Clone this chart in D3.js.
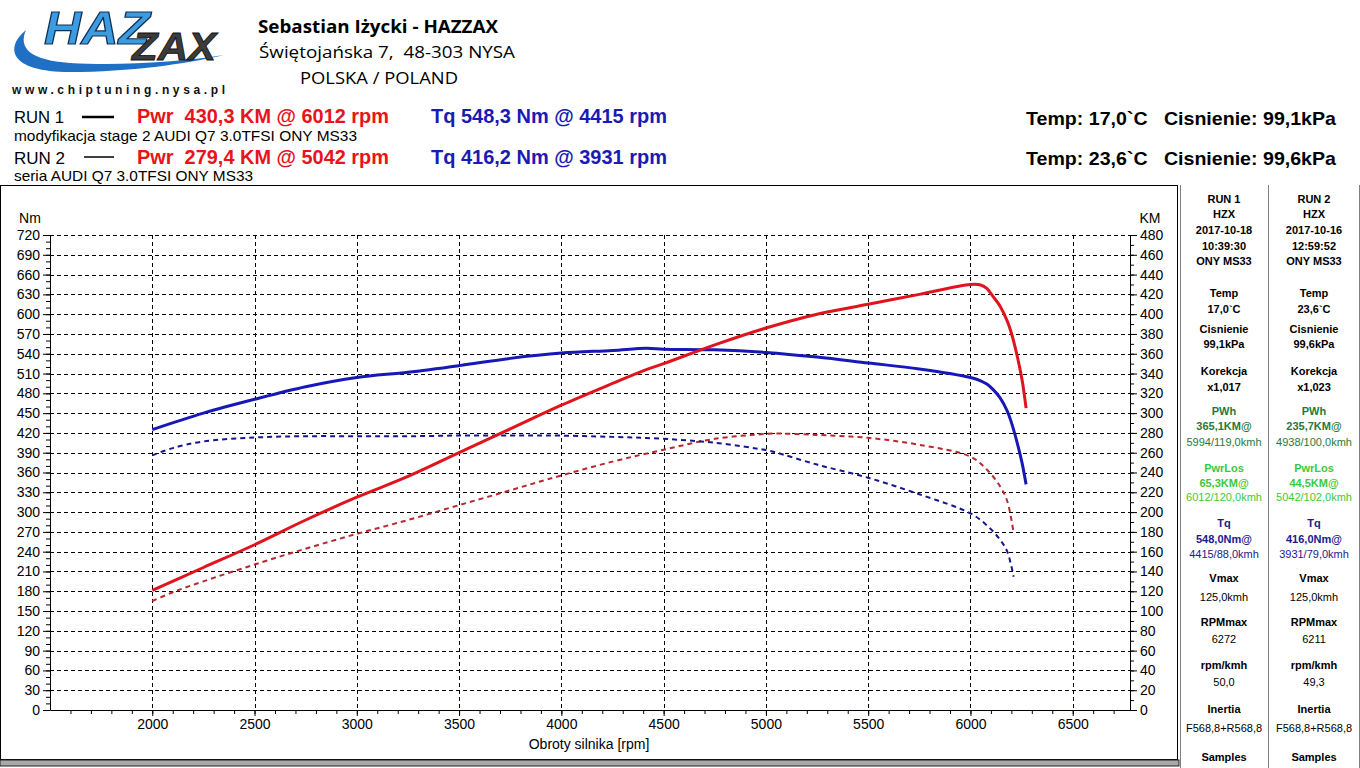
<!DOCTYPE html>
<meta charset="utf-8">
<head>
<style>
  body { margin: 0; background: #fff; }
  svg { display: block; }
</style>
</head>
<body>
  <div id="my_dataviz"></div>
  <script src="https://d3js.org/d3.v7.min.js"></script>
<script>
// ---- data ----
// RUN 1 (stage 2)
const rpm1 = [2000, 2250, 2500, 2750, 3000, 3250, 3500, 3750, 4000, 4250, 4415, 4500, 4750, 5000, 5250, 5500, 5750, 6000, 6050, 6080, 6110, 6145, 6180, 6200, 6226, 6252, 6272];
const torque1 = [425, 450, 471, 490, 504, 512, 522, 533, 541, 545, 548.3, 547, 546, 542, 535, 526, 517, 504, 499, 494, 486, 473, 453, 436, 408, 375, 342];
const power1 = [121, 144, 167, 192, 215, 236, 260, 284, 308, 330, 344, 350, 369, 386, 400, 410, 420, 430, 429.5, 426, 418, 408, 393, 381, 360, 334, 305];

// RUN 2 (stock)
const rpm2 = [2000, 2100, 2250, 2500, 2750, 3000, 3250, 3500, 3750, 3931, 4250, 4500, 4750, 5000, 5042, 5250, 5500, 5750, 6000, 6080, 6145, 6180, 6211];
const torque2 = [386, 397, 407, 413, 415, 415, 415, 416, 416, 416.2, 414, 411, 405, 394, 391, 372, 352, 327, 298, 280, 258, 240, 202];
const power2 = [110, 119, 130, 147, 163, 178, 192, 207, 222, 233, 251, 263, 274, 279, 279.4, 278, 275, 268, 256, 243, 226, 211, 179];

// axis ticks
const rpmTicks = [2000, 2500, 3000, 3500, 4000, 4500, 5000, 5500, 6000, 6500];
const nmTicks = d3.range(0, 721, 30);
const kmTicks = d3.range(0, 481, 20);

// info panel on the right
const panelRun1 = ["RUN 1", "HZX", "2017-10-18", "10:39:30", "ONY MS33", "Temp", "17,0`C", "Cisnienie", "99,1kPa", "Korekcja", "x1,017", "PWh", "365,1KM@", "5994/119,0kmh", "PwrLos", "65,3KM@", "6012/120,0kmh", "Tq", "548,0Nm@", "4415/88,0kmh", "Vmax", "125,0kmh", "RPMmax", "6272", "rpm/kmh", "50,0", "Inertia", "F568,8+R568,8", "Samples"];
const panelRun2 = ["RUN 2", "HZX", "2017-10-16", "12:59:52", "ONY MS33", "Temp", "23,6`C", "Cisnienie", "99,6kPa", "Korekcja", "x1,023", "PWh", "235,7KM@", "4938/100,0kmh", "PwrLos", "44,5KM@", "5042/102,0kmh", "Tq", "416,0Nm@", "3931/79,0kmh", "Vmax", "125,0kmh", "RPMmax", "6211", "rpm/kmh", "49,3", "Inertia", "F568,8+R568,8", "Samples"];

// layout for the panel rows (y centre + look)
const panelY = [199, 214, 230, 246, 261, 293, 309, 329, 344, 371, 387, 411, 426, 442, 468, 483, 497, 523, 539, 554, 578, 597, 622, 639, 665, 682, 709, 728, 757];
const panelKind = ["b","b","b","b","b","b","b","b","b","b","b","gb","gb","g","lb","lb","l","nb","nb","n","b","r","b","r","b","r","b","r","b"];
const kindColor = { b: "#000", r: "#000", g: "#1f7a3c", gb: "#1f7a3c", l: "#3cc83c", lb: "#3cc83c", n: "#1a1a8c", nb: "#1a1a8c" };

const W = 1360, H = 768;
const svg = d3.select("#my_dataviz").append("svg")
  .attr("width", W).attr("height", H)
  .style("font-family", "'Liberation Sans', Arial, sans-serif");

svg.append("rect").attr("width", W).attr("height", H).attr("fill", "#fff");

// scales
const x = d3.scaleLinear().domain([1500, 6780]).range([50, 1130]);
const yT = d3.scaleLinear().domain([0, 720]).range([710, 235]);
const yP = d3.scaleLinear().domain([0, 480]).range([710, 235]);

// ---- frames ----
svg.append("rect").attr("x", 0.5).attr("y", 185.5).attr("width", 1177).attr("height", 574)
  .attr("fill", "none").attr("stroke", "#000");
svg.append("rect").attr("x", 0).attr("y", 760).attr("width", 1179).attr("height", 6)
  .attr("fill", "#a8a8a8").attr("stroke", "#222").attr("stroke-width", 1);
[1180.5, 1268.5, 1359.5].forEach(function (lx) {
  svg.append("line").attr("x1", lx).attr("x2", lx).attr("y1", 185).attr("y2", 768)
    .attr("stroke", "#808080");
});

// ---- logo ----
const logo = svg.append("g");
logo.append("path")
  .attr("d", "M 26,30 C 4,48 10,72 70,72 C 130,72 185,64 224,55 C 180,62 120,66 70,63 C 30,60 18,48 26,30 Z")
  .attr("fill", "#1f6fc4");
logo.append("text").attr("x", 44).attr("y", 44)
  .attr("font-size", 46).attr("font-weight", "bold").attr("font-style", "italic")
  .attr("fill", "#3d9be0").attr("stroke", "#0e2f55").attr("stroke-width", 1.2)
  .attr("textLength", 106).attr("lengthAdjust", "spacingAndGlyphs")
  .text("HAZ");
logo.append("text").attr("x", 132).attr("y", 60)
  .attr("font-size", 38).attr("font-weight", "bold").attr("font-style", "italic")
  .attr("fill", "#3b3b3b").attr("stroke", "#111").attr("stroke-width", 0.8)
  .attr("textLength", 84).attr("lengthAdjust", "spacingAndGlyphs")
  .text("ZAX");
logo.append("text").attr("x", 12).attr("y", 94)
  .attr("font-size", 12).attr("font-weight", "bold").attr("fill", "#111")
  .attr("textLength", 213).attr("lengthAdjust", "spacing")
  .text("www.chiptuning.nysa.pl");

// ---- company header ----
const hdrFont = "'Open Sans', 'Noto Sans', sans-serif";
svg.append("text").attr("x", 258).attr("y", 33).attr("font-family", hdrFont)
  .attr("font-size", 17).attr("font-weight", "bold")
  .attr("textLength", 240).attr("lengthAdjust", "spacingAndGlyphs")
  .text("Sebastian Iżycki - HAZZAX");
svg.append("text").attr("x", 259).attr("y", 58).attr("font-family", hdrFont)
  .attr("font-size", 17).attr("xml:space", "preserve")
  .attr("textLength", 256).attr("lengthAdjust", "spacingAndGlyphs")
  .text("Świętojańska 7,  48-303 NYSA");
svg.append("text").attr("x", 300).attr("y", 84).attr("font-family", hdrFont)
  .attr("font-size", 17)
  .attr("textLength", 158).attr("lengthAdjust", "spacingAndGlyphs")
  .text("POLSKA / POLAND");

// ---- run legend rows ----
const narrow = "'Liberation Sans Narrow', 'Liberation Sans', Arial, sans-serif";
function putText(t, x0, y0, len, size, weight, color) {
  svg.append("text").attr("x", x0).attr("y", y0)
    .attr("font-family", narrow).attr("font-size", size).attr("font-weight", weight)
    .attr("fill", color).attr("xml:space", "preserve")
    .attr("textLength", len).attr("lengthAdjust", "spacingAndGlyphs")
    .text(t);
}
putText("RUN 1", 14, 123, 50, 17, "normal", "#000");
putText("modyfikacja stage 2 AUDI Q7 3.0TFSI ONY MS33", 14, 141, 343, 15, "normal", "#000");
putText("RUN 2", 14, 164, 51, 17, "normal", "#000");
putText("seria AUDI Q7 3.0TFSI ONY MS33", 14, 181, 239, 15, "normal", "#000");
putText("Pwr  430,3 KM @ 6012 rpm", 137, 123, 252, 20, "bold", "#e8141a");
putText("Tq 548,3 Nm @ 4415 rpm", 431, 123, 236, 20, "bold", "#1a1ab4");
putText("Pwr  279,4 KM @ 5042 rpm", 137, 164, 252, 20, "bold", "#e8141a");
putText("Tq 416,2 Nm @ 3931 rpm", 431, 164, 236, 20, "bold", "#1a1ab4");

svg.append("line").attr("x1", 82).attr("x2", 114).attr("y1", 117).attr("y2", 117)
  .attr("stroke", "#000").attr("stroke-width", 2.5);
svg.append("line").attr("x1", 84).attr("x2", 114).attr("y1", 157).attr("y2", 157)
  .attr("stroke", "#000").attr("stroke-width", 1.5);

function putBold(t, x0, y0, len) {
  svg.append("text").attr("x", x0).attr("y", y0)
    .attr("font-size", 19).attr("font-weight", "bold").attr("xml:space", "preserve")
    .attr("textLength", len).attr("lengthAdjust", "spacingAndGlyphs")
    .text(t);
}
putBold("Temp: 17,0`C   Cisnienie: 99,1kPa", 1026, 125, 310);
putBold("Temp: 23,6`C   Cisnienie: 99,6kPa", 1026, 165, 310);

// ---- grid ----
const grid = svg.append("g").attr("stroke", "#000").attr("stroke-dasharray", "4,3")
  .attr("shape-rendering", "crispEdges");
grid.selectAll(".h").data(nmTicks.filter(d => d > 0)).join("line")
  .attr("x1", x(1500)).attr("x2", x(6780))
  .attr("y1", d => Math.round(yT(d)) + 0.5).attr("y2", d => Math.round(yT(d)) + 0.5);
grid.selectAll(".v").data(rpmTicks).join("line")
  .attr("x1", d => Math.round(x(d)) + 0.5).attr("x2", d => Math.round(x(d)) + 0.5)
  .attr("y1", yT(720)).attr("y2", yT(0));

// ---- axes ----
function styleAxis(g) {
  g.attr("font-family", "'Liberation Sans', Arial, sans-serif").attr("font-size", 14);
  g.selectAll("text").attr("fill", "#000");
  g.selectAll("line, path").attr("stroke", "#000");
}
svg.append("g").attr("transform", "translate(50,0)")
  .call(d3.axisLeft(yT).tickValues(d3.range(0, 721, 10)).tickSize(4).tickFormat("").tickSizeOuter(0))
  .call(g => g.select(".domain").remove()).call(styleAxis);
svg.append("g").attr("transform", "translate(50,0)")
  .call(d3.axisLeft(yT).tickValues(nmTicks).tickSize(7).tickSizeOuter(0)).call(styleAxis);

svg.append("g").attr("transform", "translate(1130,0)")
  .call(d3.axisRight(yP).tickValues(d3.range(0, 481, 10)).tickSize(4).tickFormat("").tickSizeOuter(0))
  .call(g => g.select(".domain").remove()).call(styleAxis);
svg.append("g").attr("transform", "translate(1130,0)")
  .call(d3.axisRight(yP).tickValues(kmTicks).tickSize(7).tickSizeOuter(0)).call(styleAxis);

svg.append("g").attr("transform", "translate(0,710)")
  .call(d3.axisBottom(x).tickValues(d3.range(1600, 6780, 100)).tickSize(4).tickFormat("").tickSizeOuter(0))
  .call(g => g.select(".domain").remove()).call(styleAxis);
svg.append("g").attr("transform", "translate(0,710)")
  .call(d3.axisBottom(x).tickValues(rpmTicks).tickSize(6).tickFormat(d => d).tickSizeOuter(0)).call(styleAxis);

svg.append("text").attr("x", 30).attr("y", 223).attr("text-anchor", "middle").attr("font-size", 14).text("Nm");
svg.append("text").attr("x", 1150).attr("y", 223).attr("text-anchor", "middle").attr("font-size", 14).text("KM");
svg.append("text").attr("x", 589).attr("y", 749).attr("text-anchor", "middle").attr("font-size", 14)
  .text("Obroty silnika [rpm]");

// ---- curves ----
const smooth = d3.curveCatmullRom.alpha(0.5);
const torqueLine = d3.line().x(d => x(d[0])).y(d => yT(d[1])).curve(smooth);
const powerLine = d3.line().x(d => x(d[0])).y(d => yP(d[1])).curve(smooth);

const plot = svg.append("g").attr("fill", "none").attr("stroke-linejoin", "round");
plot.append("path").datum(d3.zip(rpm2, power2)).attr("d", powerLine)
  .attr("stroke", "#b8282e").attr("stroke-width", 2).attr("stroke-dasharray", "5,4");
plot.append("path").datum(d3.zip(rpm2, torque2)).attr("d", torqueLine)
  .attr("stroke", "#16168e").attr("stroke-width", 2).attr("stroke-dasharray", "5,4");
plot.append("path").datum(d3.zip(rpm1, torque1)).attr("d", torqueLine)
  .attr("stroke", "#1818b8").attr("stroke-width", 3);
plot.append("path").datum(d3.zip(rpm1, power1)).attr("d", powerLine)
  .attr("stroke", "#e0141c").attr("stroke-width", 3);

// ---- info panel ----
const panel = svg.append("g").attr("text-anchor", "middle").attr("font-size", 11)
  .attr("font-family", "'Liberation Sans', Arial, sans-serif");
[[panelRun1, 1224], [panelRun2, 1314]].forEach(function (col) {
  panel.append("g").selectAll("text").data(col[0]).join("text")
    .attr("x", col[1])
    .attr("y", (d, i) => panelY[i] + 4)
    .attr("font-weight", (d, i) => (panelKind[i].length === 2 || panelKind[i] === "b") ? "bold" : "normal")
    .attr("fill", (d, i) => kindColor[panelKind[i]])
    .text(d => d);
});
</script>
</body>
